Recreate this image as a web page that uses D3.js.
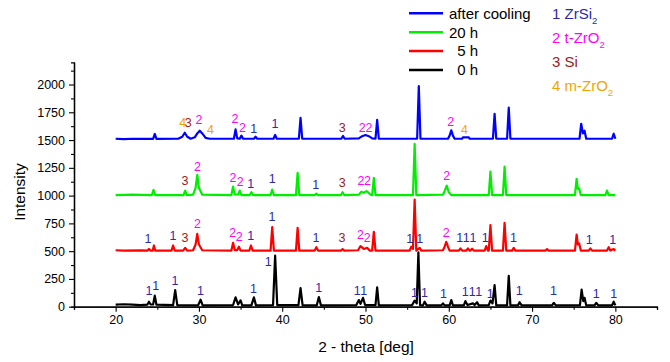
<!DOCTYPE html>
<html><head><meta charset="utf-8">
<script src="https://cdn.jsdelivr.net/npm/d3@7"></script>
<style>
body{margin:0;background:#fff;}
svg{display:block;font-family:"Liberation Sans",Arial,sans-serif;}
</style></head>
<body><svg id="c" width="670" height="362"></svg>
<script>
// ---- data ----
const xTicks = [20,30,40,50,60,70,80];
const xMinor = [15,25,35,45,55,65,75,85];
const yTicks = [0,250,500,750,1000,1250,1500,1750,2000];
const yMinor = [125,375,625,875,1125,1375,1625,1875,2125];

const seriesNames = ["after cooling","20 h","  5 h","  0 h"];
const seriesColors = ["#0000ff","#00ee00","#ff0000","#000000"];

const phaseNames = [["1 ZrSi","2"],["2 t-ZrO","2"],["3 Si",""],["4 m-ZrO","2"]];
const phaseColors = ["#2a2aaa","#ff00ff","#9b1c1c","#f5a300"];

const black = [[20,18],[21,22],[22,18],[23,15],[23.8,18],[24.0,45],[24.2,20],[24.5,20],[24.7,100],[24.9,18],[26.9,15],[27.15,150],[27.4,15],[29.9,12],[30.2,63],[30.45,12],[34.1,15],[34.4,84],[34.7,20],[35.0,57],[35.2,12],[36.3,12],[36.6,84],[36.85,12],[38.9,15],[39.15,460],[39.4,15],[41.95,15],[42.2,168],[42.45,12],[44.15,12],[44.4,87],[44.65,12],[48.9,15],[49.2,60],[49.4,25],[49.7,80],[49.95,15],[51.2,15],[51.4,175],[51.6,12],[55.6,15],[55.9,55],[56.15,30],[56.35,490],[56.55,15],[56.9,12],[57.1,45],[57.35,12],[59.1,12],[59.3,30],[59.5,12],[60.1,12],[60.3,60],[60.5,12],[61.8,12],[62.0,50],[62.25,15],[62.9,30],[63.1,15],[63.4,40],[63.6,12],[64.8,15],[65.0,55],[65.25,30],[65.5,195],[65.7,12],[67.0,12],[67.2,277],[67.4,12],[68.3,12],[68.5,40],[68.75,12],[72.4,12],[72.6,35],[72.85,12],[75.75,15],[75.95,153],[76.15,50],[76.3,80],[76.5,12],[77.5,12],[77.7,35],[77.95,12],[79.6,12],[79.8,45],[80.0,12]];

const red = [[20,508],[21,505],[23,507],[23.8,505],[24.0,520],[24.2,505],[24.45,505],[24.6,551],[24.75,505],[26.7,505],[26.9,551],[27.1,505],[28.1,505],[28.35,530],[28.6,505],[29.3,508],[29.6,560],[29.8,656],[30.0,560],[30.4,508],[33.9,505],[34.1,575],[34.3,510],[34.6,510],[34.8,540],[35.0,505],[36.05,505],[36.25,551],[36.45,505],[38.6,505],[38.8,716],[39.0,505],[41.65,505],[41.85,710],[42.05,505],[43.9,505],[44.1,536],[44.3,505],[47.05,505],[47.25,518],[47.45,505],[49.1,508],[49.4,545],[49.8,520],[50.2,530],[50.5,505],[50.8,505],[51.0,674],[51.2,505],[55.3,505],[55.5,540],[55.7,520],[55.9,964],[56.1,505],[56.5,530],[56.7,505],[59.3,508],[59.5,540],[59.7,584],[59.9,540],[60.1,505],[61.2,505],[61.4,525],[61.6,505],[62.1,505],[62.3,525],[62.5,505],[62.6,505],[62.8,522],[63.0,505],[64.3,505],[64.5,545],[64.7,505],[64.8,505],[65.0,734],[65.2,505],[66.5,505],[66.7,755],[66.9,505],[67.6,505],[67.8,530],[68.0,505],[71.6,505],[71.8,518],[72.0,505],[75.15,505],[75.35,650],[75.5,560],[75.65,570],[75.85,505],[76.8,505],[77.0,525],[77.2,505],[79.0,505],[79.2,536],[79.4,505],[79.8,520],[80,505]];

const green = [[20,1005],[22,1008],[24.35,1005],[24.55,1051],[24.75,1005],[28.15,1005],[28.35,1045],[28.55,1005],[29.3,1008],[29.6,1070],[29.8,1186],[30.0,1070],[30.4,1008],[33.9,1005],[34.1,1081],[34.3,1010],[34.7,1010],[34.9,1045],[35.1,1005],[36.1,1005],[36.3,1030],[36.5,1005],[38.6,1005],[38.8,1054],[39.0,1005],[41.65,1005],[41.85,1204],[42.05,1005],[43.9,1005],[44.1,1018],[44.3,1005],[47.05,1005],[47.25,1030],[47.45,1005],[49.2,1008],[49.5,1035],[49.8,1025],[50.1,1040],[50.3,1030],[50.6,1008],[50.8,1005],[51.0,1159],[51.2,1005],[55.7,1005],[55.9,1465],[56.1,1005],[59.3,1008],[59.5,1040],[59.75,1090],[60.0,1030],[60.3,1005],[64.8,1005],[65.0,1216],[65.2,1005],[66.5,1005],[66.7,1261],[66.9,1005],[75.15,1005],[75.35,1150],[75.5,1060],[75.65,1065],[75.85,1005],[78.8,1005],[79.0,1045],[79.2,1005],[80,1005]];

const blue = [[20,1512],[21,1508],[22,1512],[24.5,1510],[24.7,1555],[24.9,1510],[27.5,1512],[28.0,1530],[28.3,1566],[28.6,1530],[29.0,1512],[29.5,1525],[29.8,1560],[30.1,1584],[30.4,1560],[30.8,1520],[31.3,1512],[34.2,1512],[34.4,1596],[34.6,1515],[34.9,1512],[35.1,1540],[35.3,1512],[36.6,1512],[36.8,1530],[37.0,1512],[38.95,1512],[39.15,1546],[39.35,1512],[42.0,1512],[42.2,1700],[42.4,1512],[47.1,1512],[47.3,1537],[47.5,1512],[49.2,1515],[49.6,1535],[50.0,1545],[50.4,1535],[50.8,1515],[51.2,1512],[51.4,1683],[51.6,1512],[56.2,1512],[56.4,1985],[56.6,1512],[59.9,1512],[60.1,1540],[60.3,1587],[60.5,1540],[60.7,1512],[61.6,1512],[61.7,1525],[62.4,1525],[62.5,1512],[65.3,1512],[65.5,1737],[65.7,1512],[67.0,1512],[67.2,1792],[67.4,1512],[75.7,1512],[75.9,1647],[76.1,1560],[76.3,1584],[76.5,1512],[79.6,1512],[79.8,1557],[80.0,1512]];

// peak labels: [2theta, intensity, phase]
const labelsBlue = [[28.05,1656,4],[28.72,1662,3],[30.02,1683,2],[31.39,1596,4],[34.34,1692,2],[35.22,1617,2],[36.59,1602,1],[39.12,1647,1],[47.21,1617,3],[49.62,1611,2],[50.42,1611,2],[60.24,1671,2],[61.88,1593,4]];
const labelsGreen = [[28.33,1136,3],[29.82,1265,2],[34.10,1166,2],[34.95,1127,2],[36.23,1112,1],[38.79,1151,1],[44.01,1097,1],[47.21,1121,3],[49.45,1136,2],[50.25,1136,2],[59.76,1181,2]];
const labelsRed = [[23.89,610,1],[26.89,640,1],[28.33,625,3],[29.82,751,2],[34.07,670,2],[34.85,631,2],[36.23,640,1],[38.76,812,1],[44.05,619,1],[47.17,619,3],[49.4,649,2],[50.2,625,2],[55.3,610,1],[56.5,610,1],[59.68,664,2],[61.3,625,1],[62.1,619,1],[62.9,619,1],[64.37,619,1],[67.77,619,1],[76.87,604,1],[79.67,604,1]];
const labelsBlack = [[24.0,144,1],[24.8,189,1],[27.13,234,1],[30.18,144,1],[36.56,165,1],[38.31,406,1],[44.37,174,1],[49.0,144,1],[49.8,144,1],[55.87,129,1],[57.07,129,1],[59.35,120,1],[61.96,135,1],[62.8,135,1],[63.6,135,1],[64.97,120,1],[68.46,144,1],[72.58,144,1],[77.71,117,1],[79.79,117,1]];

// ---- chart ----
const svg = d3.select("#c");
const x = d3.scaleLinear().domain([15,85]).range([74,657]);
const y = d3.scaleLinear().domain([0,2200]).range([306.7,62.3]);

const axisFont = 12.5;
// y axis
const gy = svg.append("g").attr("transform","translate(74,0)");
gy.call(d3.axisLeft(y).tickValues(yTicks).tickFormat(d3.format("d")).tickSize(5).tickSizeOuter(0).tickPadding(4));
gy.append("g").call(d3.axisLeft(y).tickValues(yMinor).tickSize(3).tickFormat(""));
gy.selectAll("text").attr("font-size",axisFont).attr("font-family","Liberation Sans, Arial").attr("fill","#000");
// x axis
const gx = svg.append("g").attr("transform","translate(0,306.7)");
gx.call(d3.axisBottom(x).tickValues(xTicks).tickFormat(d3.format("d")).tickSize(5).tickSizeOuter(0).tickPadding(3));
gx.append("g").call(d3.axisBottom(x).tickValues(xMinor).tickSize(3).tickFormat(""));
gx.selectAll("text").attr("font-size",axisFont).attr("font-family","Liberation Sans, Arial").attr("fill","#000");
svg.selectAll(".domain").attr("stroke","#000").attr("stroke-width",1.3);
svg.selectAll(".tick line").attr("stroke","#000").attr("stroke-width",1.1);

// lines
const line = d3.line().x(d=>x(d[0])).y(d=>y(d[1]));
const traces = [black, red, green, blue];
const traceColors = ["#000000","#ff0000","#00ee00","#0000ff"];
traces.forEach((t,i)=>{
  svg.append("path").datum(t).attr("d",line).attr("fill","none")
    .attr("stroke",traceColors[i]).attr("stroke-width",2.2).attr("stroke-linejoin","round");
});

// peak labels
[labelsBlack,labelsRed,labelsGreen,labelsBlue].forEach(arr=>{
  svg.append("g").selectAll("text").data(arr).join("text")
    .attr("x",d=>x(d[0])).attr("y",d=>y(d[1]))
    .attr("dy","0.36em").attr("text-anchor","middle")
    .attr("font-size",12.5).attr("fill",d=>phaseColors[d[2]-1]).text(d=>String(d[2]));
});

// axis titles
svg.append("text").attr("x",366).attr("y",346).attr("dy","0.36em").attr("text-anchor","middle")
  .attr("font-size",15.5).text("2 - theta [deg]");
svg.append("text").attr("transform","translate(19,192) rotate(-90)").attr("dy","0.36em")
  .attr("text-anchor","middle").attr("font-size",15.5).text("Intensity");

// legend
const legY = [13.3,32.3,51,70];
const lg = svg.append("g");
seriesNames.forEach((n,i)=>{
  lg.append("line").attr("x1",409).attr("x2",443).attr("y1",legY[i]).attr("y2",legY[i])
    .attr("stroke",seriesColors[i]).attr("stroke-width",2.5);
  lg.append("text").attr("x",449).attr("y",legY[i]).attr("dy","0.36em")
    .attr("font-size",15).style("white-space","pre").attr("xml:space","preserve").text(n);
});
const phY = [13.3,37.7,61.7,85.5];
phaseNames.forEach((p,i)=>{
  const t = svg.append("text").attr("x",552).attr("y",phY[i]).attr("dy","0.36em")
    .attr("font-size",15).attr("fill",phaseColors[i]);
  t.append("tspan").text(p[0]);
  if (p[1]) t.append("tspan").attr("font-size",9.5).attr("dy","5").text(p[1]);
});
</script></body></html>
